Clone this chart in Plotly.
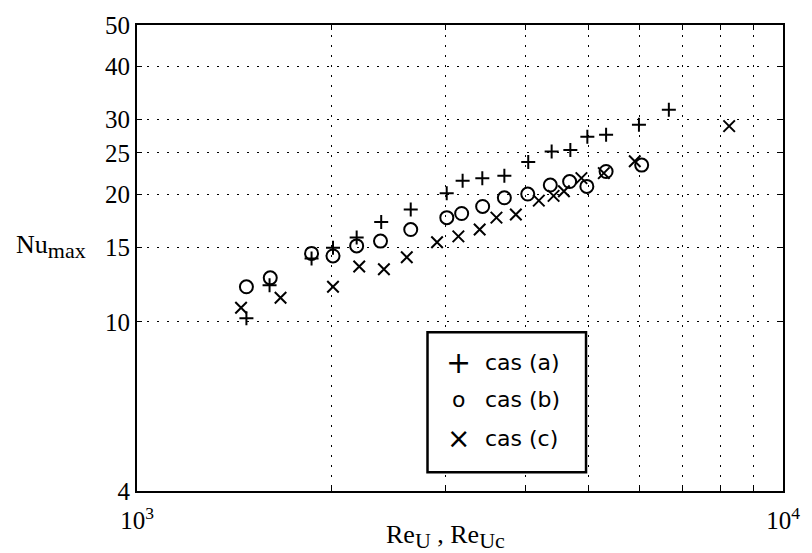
import plotly.graph_objects as go

# Maximum Nusselt number versus Reynolds number, three configurations
re_a = [1477, 1604, 1863, 2011, 2188, 2388, 2653, 3016, 3192, 3424, 3704,
        4033, 4384, 4686, 4979, 5323, 5984, 6657]
nu_a = [10.2, 12.2, 14.1, 14.95, 15.8, 17.2, 18.4, 20.1, 21.5, 21.8, 22.1,
        23.8, 25.2, 25.4, 27.3, 27.6, 29.1, 31.6]

re_b = [1477, 1608, 1863, 2011, 2188, 2382, 2653, 3017, 3181, 3428, 3704,
        4026, 4363, 4674, 4970, 5323, 6043]
nu_b = [12.1, 12.7, 14.5, 14.3, 15.1, 15.5, 16.5, 17.6, 18.0, 18.7, 19.6,
        20.0, 21.0, 21.4, 20.85, 22.6, 23.4]

re_c = [1449, 1668, 2011, 2208, 2411, 2616, 2914, 3144, 3392, 3601, 3859,
        4188, 4414, 4580, 4875, 5280, 5896, 8254]
nu_c = [10.8, 11.4, 12.1, 13.5, 13.3, 14.2, 15.4, 15.9, 16.5, 17.6, 17.9,
        19.3, 19.8, 20.3, 21.8, 22.4, 23.9, 28.9]

series_names = ["cas (a)", "cas (b)", "cas (c)"]
legend_glyphs = ["+", "o", "×"]

x_tickvals = [1000, 10000]
x_ticktext = ["10<sup>3</sup>", "10<sup>4</sup>"]
x_minorvals = [2000, 3000, 4000, 5000, 6000, 7000, 8000, 9000]
y_tickvals = [4, 10, 15, 20, 25, 30, 40, 50]
y_ticktext = ["4", "10", "15", "20", "25", "30", "40", "50"]

SERIF = "Liberation Serif"
SANS = "DejaVu Sans"
DOTS = "2px,8px"

fig = go.Figure()
fig.add_trace(go.Scatter(
    x=re_a, y=nu_a, mode="markers", name=series_names[0],
    marker=dict(symbol="cross-thin", size=10, color="black",
                line=dict(width=2, color="black"))))
fig.add_trace(go.Scatter(
    x=re_b, y=nu_b, mode="markers", name=series_names[1],
    marker=dict(symbol="circle-open", size=13, color="black",
                line=dict(width=2, color="black"))))
fig.add_trace(go.Scatter(
    x=re_c, y=nu_c, mode="markers", name=series_names[2],
    marker=dict(symbol="x-thin", size=11.5, color="black",
                line=dict(width=2, color="black"))))

axis_common = dict(
    showline=True, linewidth=2, linecolor="black", mirror="ticks",
    ticks="inside", ticklen=5, tickwidth=1, tickcolor="black",
    showgrid=True, gridcolor="black", gridwidth=1, griddash=DOTS,
    zeroline=False, tickfont=dict(family=SERIF, size=25, color="black"),
)

fig.update_xaxes(type="log", range=[3, 4], tickmode="array",
                 tickvals=x_tickvals, ticktext=x_ticktext,
                 ticklabelstandoff=6,
                 minor=dict(tickmode="array", tickvals=x_minorvals,
                            ticks="inside", ticklen=5, tickwidth=1,
                            tickcolor="black", showgrid=True,
                            gridcolor="black", gridwidth=1, griddash=DOTS),
                 **axis_common)
fig.update_yaxes(type="log", range=[0.60206, 1.69897], tickmode="array",
                 tickvals=y_tickvals, ticktext=y_ticktext,
                 ticklabelstandoff=0, **axis_common)

annotations = [
    dict(text="Nu<sub><span style='font-size:22px'>max</span></sub>",
         xref="paper", yref="paper",
         x=-0.191, y=0.524, xanchor="left", yanchor="middle",
         showarrow=False, font=dict(family=SERIF, size=26, color="black")),
    dict(text="Re<sub><span style='font-size:22px'>U</span></sub> , "
              "Re<sub><span style='font-size:22px'>Uc</span></sub>",
         xref="paper", yref="paper",
         x=0.477, y=-0.098, xanchor="center", yanchor="middle",
         showarrow=False, font=dict(family=SERIF, size=26, color="black")),
]

# hand-drawn legend box
row_y = [0.276, 0.197, 0.112]
glyph_sizes = [30, 22, 28]
for name, glyph, gy, gs in zip(series_names, legend_glyphs, row_y, glyph_sizes):
    annotations.append(dict(text=glyph, xref="paper", yref="paper",
                            x=0.497, y=gy, xanchor="center", yanchor="middle",
                            showarrow=False,
                            font=dict(family=SANS, size=gs, color="black")))
    annotations.append(dict(text=name, xref="paper", yref="paper",
                            x=0.536, y=gy, xanchor="left", yanchor="middle",
                            showarrow=False,
                            font=dict(family=SANS, size=22, color="black")))

fig.update_layout(
    width=812, height=553,
    margin=dict(l=137, r=19, t=18, b=62),
    paper_bgcolor="white", plot_bgcolor="white",
    showlegend=False,
    annotations=annotations,
    shapes=[dict(type="rect", xref="paper", yref="paper",
                 x0=0.4497, x1=0.6951, y0=0.0402, y1=0.3404,
                 line=dict(color="black", width=2.5),
                 fillcolor="white", layer="above")],
)

fig.write_html("out.html")
